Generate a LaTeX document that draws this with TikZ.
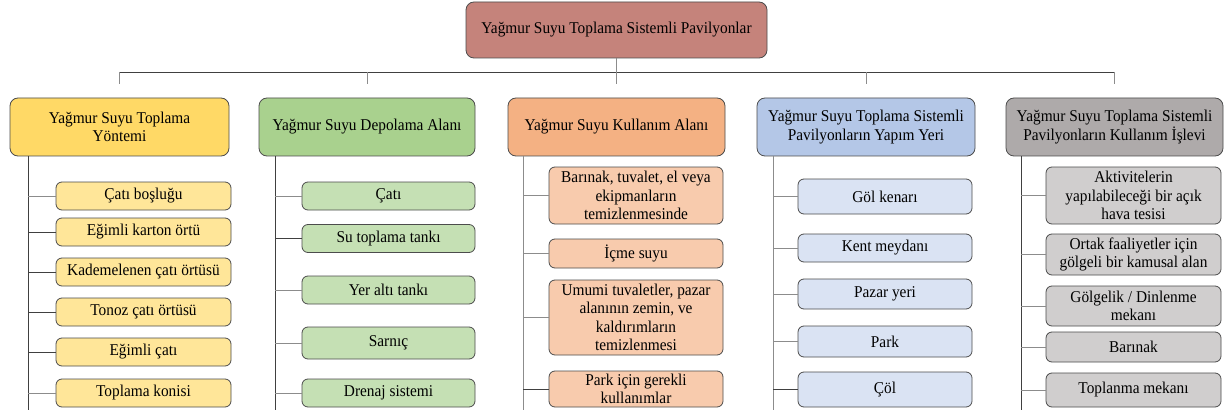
\documentclass[tikz,border=0pt]{standalone}
\usepackage{fontspec}
\setmainfont{Liberation Serif}[FakeStretch=0.93]
\definecolor{rootc}{HTML}{C5837B}
\definecolor{ca}{HTML}{FFD966}
\definecolor{cb}{HTML}{A9D18E}
\definecolor{cc}{HTML}{F4B183}
\definecolor{cd}{HTML}{B4C7E7}
\definecolor{ce}{HTML}{AEAAAA}
\definecolor{ka}{HTML}{FFE699}
\definecolor{kb}{HTML}{C5E0B4}
\definecolor{kc}{HTML}{F8CBAD}
\definecolor{kd}{HTML}{DAE3F3}
\definecolor{ke}{HTML}{D0CECE}
\begin{document}
\begin{tikzpicture}[x=1pt,y=-1pt,
  every node/.style={font=\rmfamily\fontsize{16.5}{18.5}\selectfont, align=center, inner sep=0pt},
  box/.style 2 args={draw=black!70, line width=0.8pt, rounded corners=6pt, minimum width=#1pt, minimum height=#2pt},
  topbox/.style={rounded corners=8pt},
  ln/.style={draw=black!75, line width=0.8pt},
  lnl/.style={draw=black!45, line width=0.8pt}]
\path[use as bounding box, fill=white] (0,0) rectangle (1226,417);

% root
\node[box={301}{56}, topbox, fill=rootc] (r) at (616.5,30) {Yağmur Suyu Toplama Sistemli Pavilyonlar};

% categories
\node[box={219}{58}, topbox, fill=ca] (c1) at (119.5,127) {Yağmur Suyu Toplama\\Yöntemi};
\node[box={216}{58}, topbox, fill=cb] (c2) at (367,127) {Yağmur Suyu Depolama Alanı};
\node[box={217}{58}, topbox, fill=cc] (c3) at (616.5,127) {Yağmur Suyu Kullanım Alanı};
\node[box={218}{58}, topbox, fill=cd] (c4) at (866,127) {Yağmur Suyu Toplama Sistemli\\Pavilyonların Yapım Yeri};
\node[box={217}{58}, topbox, fill=ce] (c5) at (1114.5,127) {Yağmur Suyu Toplama Sistemli\\Pavilyonların Kullanım İşlevi};

% column 1
\node[box={175}{28}, fill=ka] (k11) at (143.5,196) {Çatı boşluğu};
\node[box={175}{28}, fill=ka] (k12) at (143.5,232) {Eğimli karton örtü};
\node[box={175}{28}, fill=ka] (k13) at (143.5,272) {Kademelenen çatı örtüsü};
\node[box={175}{28}, fill=ka] (k14) at (143.5,312) {Tonoz çatı örtüsü};
\node[box={175}{28}, fill=ka] (k15) at (143.5,352) {Eğimli çatı};
\node[box={175}{28}, fill=ka] (k16) at (143.5,393) {Toplama konisi};

% column 2
\node[box={173}{28}, fill=kb] (k21) at (388.5,196) {Çatı};
\node[box={173}{28}, fill=kb] (k22) at (388.5,238.5) {Su toplama tankı};
\node[box={173}{28}, fill=kb] (k23) at (388.5,290) {Yer altı tankı};
\node[box={173}{32}, fill=kb] (k24) at (388.5,343) {Sarnıç};
\node[box={173}{28}, fill=kb] (k25) at (388.5,393) {Drenaj sistemi};

% column 3
\node[box={174}{57}, fill=kc] (k31) at (636,195.5) {Barınak, tuvalet, el veya\\ekipmanların\\temizlenmesinde};
\node[box={174}{29}, fill=kc] (k32) at (636,253.5) {İçme suyu};
\node[box={174}{75}, fill=kc] (k33) at (636,317.5) {Umumi tuvaletler, pazar\\alanının zemin, ve\\kaldırımların\\temizlenmesi};
\node[box={174}{36}, fill=kc] (k34) at (636,389) {Park için gerekli\\kullanımlar};

% column 4
\node[box={174}{35}, fill=kd] (k41) at (885,196.5) {Göl kenarı};
\node[box={174}{28}, fill=kd] (k42) at (885,248) {Kent meydanı};
\node[box={174}{30}, fill=kd] (k43) at (885,294) {Pazar yeri};
\node[box={174}{31}, fill=kd] (k44) at (885,341.5) {Park};
\node[box={174}{35}, fill=kd] (k45) at (885,389.5) {Çöl};

% column 5
\node[box={175}{57}, fill=ke] (k51) at (1133.5,195.5) {Aktivitelerin\\yapılabileceği bir açık\\hava tesisi};
\node[box={175}{41}, fill=ke] (k52) at (1133.5,254.5) {Ortak faaliyetler için\\gölgeli bir kamusal alan};
\node[box={175}{40}, fill=ke] (k53) at (1133.5,306) {Gölgelik / Dinlenme\\mekanı};
\node[box={175}{30}, fill=ke] (k54) at (1133.5,347) {Barınak};
\node[box={175}{34}, fill=ke] (k55) at (1133.5,390) {Toplanma mekanı};

% connectors top
\coordinate (bar) at (0,72);
\coordinate (dr) at (0,84);
\coordinate (bot) at (0,410);
\draw[lnl] (r.south) -- (r.south |- bar);
\draw[ln] (c1.north |- bar) -- (c5.north |- bar);
\foreach \c in {c1,c2,c3,c4,c5} \draw[lnl] (\c.north |- bar) -- (\c.north |- dr);

% spines
\coordinate (s1) at (28,0);
\coordinate (s2) at (275,0);
\coordinate (s3) at (523,0);
\coordinate (s4) at (773,0);
\coordinate (s5) at (1021,0);
\draw[ln] (s1 |- c1.south) -- (s1 |- bot);
\draw[ln] (s2 |- c2.south) -- (s2 |- bot);
\draw[lnl] (s3 |- c3.south) -- (s3 |- bot);
\draw[lnl] (s4 |- c4.south) -- (s4 |- bot);
\draw[ln] (s5 |- c5.south) -- (s5 |- bot);

% branches
\foreach \k in {k11,k16} \draw[lnl] (\k.west) -- (\k.west -| s1);
\foreach \k in {k12,k13,k14,k15} \draw[ln] (\k.west) -- (\k.west -| s1);
\foreach \k in {k21,k23,k24,k25} \draw[lnl] (\k.west) -- (\k.west -| s2);
\draw[ln] (k22.west) -- (k22.west -| s2);
\foreach \k in {k31,k32,k33} \draw[lnl] (\k.west) -- (\k.west -| s3);
\draw[ln] (k34.west) -- (k34.west -| s3);
\foreach \k in {k41,k42,k43,k44} \draw[lnl] (\k.west) -- (\k.west -| s4);
\draw[ln] (k45.west) -- (k45.west -| s4);
\foreach \k in {k51,k52,k53,k54,k55} \draw[lnl] (\k.west) -- (\k.west -| s5);
\end{tikzpicture}
\end{document}
